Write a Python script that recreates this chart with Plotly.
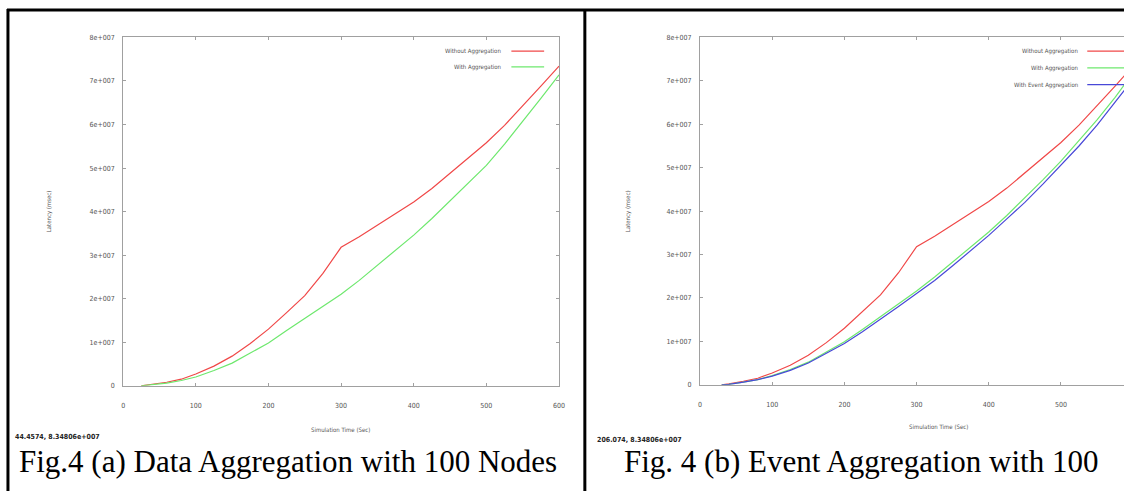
import plotly.graph_objects as go

W, H = 1130, 495

# ---------------- data ----------------
# Panel (a): Data Aggregation with 100 Nodes
time_a = [25, 40, 60, 80, 100, 125, 150, 175, 200, 225, 250, 275, 300, 325, 350,
          375, 400, 425, 450, 475, 500, 525, 550, 575, 600]
without_agg_a = [0.0, 0.3e6, 0.8e6, 1.5e6, 2.7e6, 4.5e6, 6.8e6, 9.7e6, 13.0e6, 16.8e6,
                 20.7e6, 25.8e6, 31.8e6, 34.2e6, 36.8e6, 39.5e6, 42.2e6, 45.3e6, 48.8e6,
                 52.2e6, 55.8e6, 59.8e6, 64.2e6, 68.8e6, 73.4e6]
with_agg_a = [0.0, 0.2e6, 0.6e6, 1.2e6, 2.0e6, 3.5e6, 5.2e6, 7.5e6, 9.8e6, 12.7e6,
              15.5e6, 18.2e6, 21.0e6, 24.2e6, 27.6e6, 31.0e6, 34.6e6, 38.4e6, 42.4e6,
              46.5e6, 50.6e6, 55.5e6, 60.7e6, 66.0e6, 71.4e6]

# Panel (b): Event Aggregation with 100 Nodes
time_b = [30, 40, 60, 80, 100, 125, 150, 175, 200, 225, 250, 275, 300, 325, 350,
          375, 400, 425, 450, 475, 500, 525, 550, 575, 600]
without_agg_b = [0.0, 0.2e6, 0.8e6, 1.5e6, 2.7e6, 4.5e6, 6.8e6, 9.7e6, 13.0e6, 16.8e6,
                 20.7e6, 25.8e6, 31.8e6, 34.2e6, 36.8e6, 39.5e6, 42.2e6, 45.3e6, 48.8e6,
                 52.2e6, 55.8e6, 59.8e6, 64.2e6, 68.8e6, 73.4e6]
with_agg_b = [0.0, 0.1e6, 0.6e6, 1.2e6, 2.1e6, 3.5e6, 5.2e6, 7.5e6, 9.9e6, 12.7e6,
              15.6e6, 18.6e6, 21.6e6, 24.8e6, 28.2e6, 31.6e6, 35.2e6, 39.0e6, 43.0e6,
              47.2e6, 51.5e6, 56.2e6, 61.0e6, 66.2e6, 71.8e6]
with_event_agg_b = [0.0, 0.1e6, 0.6e6, 1.2e6, 2.0e6, 3.3e6, 5.0e6, 7.2e6, 9.5e6, 12.2e6,
                    15.0e6, 18.0e6, 21.0e6, 24.0e6, 27.4e6, 30.8e6, 34.4e6, 38.2e6, 42.0e6,
                    46.2e6, 50.5e6, 55.0e6, 59.8e6, 65.0e6, 70.4e6]

x_ticks = [0, 100, 200, 300, 400, 500, 600]
x_tick_labels = ["0", "100", "200", "300", "400", "500", "600"]
y_ticks = [0, 1e7, 2e7, 3e7, 4e7, 5e7, 6e7, 7e7, 8e7]
y_tick_labels = ["0", "1e+007", "2e+007", "3e+007", "4e+007", "5e+007", "6e+007",
                 "7e+007", "8e+007"]

series_names = ["Without Aggregation", "With Aggregation", "With Event Aggregation"]
captions = ["Fig.4 (a) Data Aggregation with 100 Nodes", "Fig. 4 (b) Event Aggregation with 100"]
coord_texts = ["44.4574, 8.34806e+007", "206.074, 8.34806e+007"]
x_title = "Simulation Time (Sec)"
y_title = "Latency (msec)"

# ---------------- style ----------------
RED = "#f04848"
GREEN = "#6ee86e"
BLUE = "#4848d8"
AXIS = "#a0a0a0"
TXT = "#555555"
SMALL = "Liberation Sans Narrow, DejaVu Sans Condensed, Arial Narrow, sans-serif"


def fx(px):
    return px / W


def fy(py):
    return 1 - py / H


fig = go.Figure()

fig.add_trace(go.Scatter(x=time_a, y=without_agg_a, mode="lines", line=dict(color=RED, width=1.2),
                         xaxis="x", yaxis="y", showlegend=False))
fig.add_trace(go.Scatter(x=time_a, y=with_agg_a, mode="lines", line=dict(color=GREEN, width=1.2),
                         xaxis="x", yaxis="y", showlegend=False))
fig.add_trace(go.Scatter(x=time_b, y=without_agg_b, mode="lines", line=dict(color=RED, width=1.2),
                         xaxis="x2", yaxis="y2", showlegend=False))
fig.add_trace(go.Scatter(x=time_b, y=with_agg_b, mode="lines", line=dict(color=GREEN, width=1.2),
                         xaxis="x2", yaxis="y2", showlegend=False))
fig.add_trace(go.Scatter(x=time_b, y=with_event_agg_b, mode="lines", line=dict(color=BLUE, width=1.2),
                         xaxis="x2", yaxis="y2", showlegend=False))

common_x = dict(tickmode="array", tickvals=x_ticks, ticktext=x_tick_labels, showgrid=False,
                zeroline=False, showline=True, linecolor=AXIS, linewidth=1, ticks="inside",
                ticklen=3, tickcolor=AXIS, tickfont=dict(family=SMALL, size=7, color=TXT),
                ticklabelstandoff=13)
common_y = dict(tickmode="array", tickvals=y_ticks, ticktext=y_tick_labels, showgrid=False,
                zeroline=False, showline=True, linecolor=AXIS, linewidth=1, ticks="inside",
                ticklen=3, tickcolor=AXIS, tickfont=dict(family=SMALL, size=7, color=TXT),
                ticklabelstandoff=6, range=[0, 8e7])

fig.update_layout(
    width=W, height=H, margin=dict(l=0, r=0, t=0, b=0),
    paper_bgcolor="white", plot_bgcolor="white", showlegend=False,
    xaxis=dict(domain=[fx(122), fx(561)], range=[0, 600], anchor="y", mirror="ticks", **common_x),
    yaxis=dict(domain=[fy(388), fy(34)], anchor="x", mirror="ticks", **common_y),
    xaxis2=dict(domain=[fx(703), 1.0], range=[0, (1130 - 703) / 0.727], anchor="y2",
                mirror="ticks", **common_x),
    yaxis2=dict(domain=[fy(387), fy(34)], anchor="x2", mirror=False, **common_y),
)

ann = []
shapes = []

# axis titles
for cx, cy in [(341, 432), (943, 429)]:
    ann.append(dict(x=fx(cx), y=fy(cy), xref="paper", yref="paper", text=x_title, showarrow=False,
                    font=dict(family=SMALL, size=6, color=TXT), xanchor="center", yanchor="middle"))
for cx in [47, 630]:
    ann.append(dict(x=fx(cx), y=fy(211), xref="paper", yref="paper", text=y_title, showarrow=False,
                    textangle=-90, font=dict(family=SMALL, size=6, color=TXT),
                    xanchor="center", yanchor="middle"))

# coordinate read-outs
for (lx, ly), t in zip([(11, 440), (597, 443)], coord_texts):
    ann.append(dict(x=fx(lx), y=fy(ly), xref="paper", yref="paper", text="<b>" + t + "</b>",
                    showarrow=False, font=dict(family=SMALL, size=7, color="#222222"),
                    xanchor="left", yanchor="middle"))

# captions
for cx, t in zip([288, 865], captions):
    ann.append(dict(x=fx(cx), y=fy(465), xref="paper", yref="paper", text=t, showarrow=False,
                    font=dict(family="Liberation Serif, Times New Roman, serif", size=31, color="black"),
                    xanchor="center", yanchor="middle"))

# legends
legend_a = [(series_names[0], RED, 48), (series_names[1], GREEN, 64)]
for name, col, ly in legend_a:
    ann.append(dict(x=fx(505), y=fy(ly), xref="paper", yref="paper", text=name, showarrow=False,
                    font=dict(family=SMALL, size=6, color=TXT), xanchor="right", yanchor="middle"))
    shapes.append(dict(type="line", xref="paper", yref="paper", x0=fx(513), x1=fx(546),
                       y0=fy(ly), y1=fy(ly), line=dict(color=col, width=1.2)))
legend_b = [(series_names[0], RED, 48), (series_names[1], GREEN, 65), (series_names[2], BLUE, 82)]
for name, col, ly in legend_b:
    ann.append(dict(x=fx(1086), y=fy(ly), xref="paper", yref="paper", text=name, showarrow=False,
                    font=dict(family=SMALL, size=6, color=TXT), xanchor="right", yanchor="middle"))
    shapes.append(dict(type="line", xref="paper", yref="paper", x0=fx(1093), x1=1.0,
                       y0=fy(ly), y1=fy(ly), line=dict(color=col, width=1.2)))

# table borders
shapes.append(dict(type="line", xref="paper", yref="paper", x0=fx(5), x1=1.0, y0=fy(6), y1=fy(6),
                   line=dict(color="black", width=3)))
shapes.append(dict(type="line", xref="paper", yref="paper", x0=fx(6), x1=fx(6), y0=fy(5), y1=0,
                   line=dict(color="black", width=3)))
shapes.append(dict(type="line", xref="paper", yref="paper", x0=fx(587), x1=fx(587), y0=fy(5), y1=0,
                   line=dict(color="black", width=3)))

fig.update_layout(annotations=ann, shapes=shapes)
fig.write_html("out.html", config={"displayModeBar": False},
               post_script="document.body.style.margin='0';document.body.style.overflow='hidden';")
